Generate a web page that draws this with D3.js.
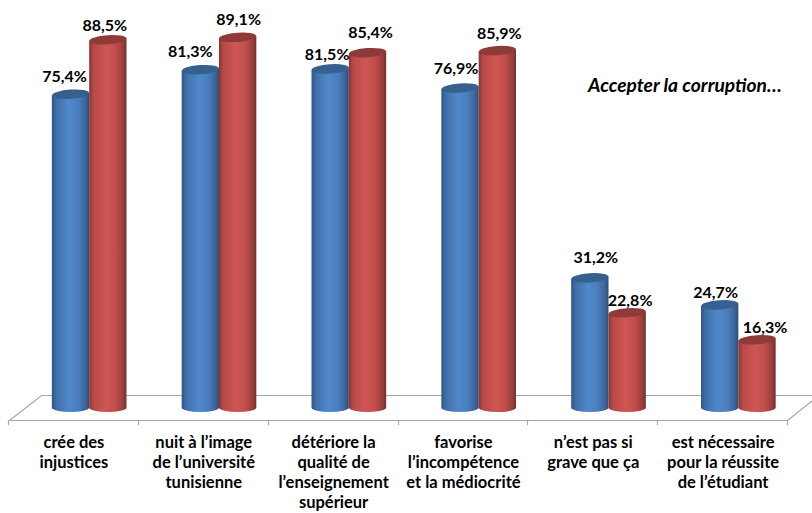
<!DOCTYPE html>
<html><head><meta charset="utf-8">
<script src="https://cdn.jsdelivr.net/npm/d3@7/dist/d3.min.js"></script>
<style>html,body{margin:0;background:#fff}svg{display:block}text{font-family:Lato,"Open Sans",sans-serif;font-weight:700;fill:#000}</style>
</head><body><svg id="c" width="812" height="513"></svg>
<script>
const categories=[["crée des","injustices"],["nuit à l’image","de l’université","tunisienne"],["détériore la","qualité de","l’enseignement","supérieur"],["favorise","l’incompétence","et la médiocrité"],["n’est pas si","grave que ça"],["est nécessaire","pour la réussite","de l’étudiant"]];
const seriesBlue=[75.4,81.3,81.5,76.9,31.2,24.7];
const seriesRed=[88.5,89.1,85.4,85.9,22.8,16.3];
const title="Accepter la corruption…";
const nudgeBlue=[-6,-10,-3,-4,6,-4];
const nudgeRed=[-3,1,3,2,3,8];
const liftBlue=[2,1,5,0,-1,7];
const liftRed=[5,2,-1,2,7,7];
const fmt=v=>v.toFixed(1).replace(".",",")+"%";

const svg=d3.select("#c");
const defs=svg.append("defs");
function grad(id,stops){const g=defs.append("linearGradient").attr("id",id);
 stops.forEach(([o,c])=>g.append("stop").attr("offset",o).attr("stop-color",c));}
grad("gb",[[0,"#2f5587"],[.12,"#3f6fa9"],[.45,"#5088cb"],[.7,"#4a7fbe"],[.9,"#3b659b"],[1,"#2d4d78"]]);
grad("gr",[[0,"#8a3533"],[.12,"#b84a47"],[.45,"#cf5553"],[.7,"#c24e4b"],[.9,"#99403d"],[1,"#723030"]]);

const x=d3.scaleBand().domain(d3.range(categories.length)).range([9,788]);
const inner=d3.scaleBand().domain([0,1]).range([x.bandwidth()*0.33,x.bandwidth()*0.905]);
const y=d3.scaleLinear().domain([0,100]).range([407.5,-8]);

const floor=svg.append("g").attr("fill","none").attr("stroke","#a6a6a6").attr("stroke-width",1.2);
floor.append("path").attr("d","M9.5,420.5 L41.5,395.5 H812");
floor.append("path").attr("d","M787.5,420.5 L812,401");
floor.append("path").attr("d","M9.5,420.5 H787.5");
x.domain().concat([categories.length]).forEach(i=>{
  const px=Math.round(i<categories.length?x(i):x.range()[1])-0.5;
  floor.append("line").attr("x1",px).attr("x2",px).attr("y1",420).attr("y2",425);
});

const all=[];
categories.forEach((_,i)=>{
  all.push({i,s:0,v:seriesBlue[i],nudge:nudgeBlue[i],lift:liftBlue[i]});
  all.push({i,s:1,v:seriesRed[i],nudge:nudgeRed[i],lift:liftRed[i]});
});
const ry=4.6,tilt=-4;
const bars=svg.append("g").selectAll("g").data(all).join("g").attr("transform",d=>`translate(${x(d.i)+inner(d.s)},0)`);
const w=inner.bandwidth();
bars.each(function(d){
  const g=d3.select(this),t=y(d.v),b=y(0),rx=w/2;
  const fill=d.s?"url(#gr)":"url(#gb)";
  const dt=Math.tan(tilt*Math.PI/180)*rx;
  g.append("path").attr("fill",fill)
    .attr("d",`M0,${t-dt} L0,${b} A${rx},${ry} 0 0 0 ${w},${b} L${w},${t+dt} Z`);
  g.append("ellipse").attr("cx",rx).attr("cy",t).attr("rx",rx).attr("ry",ry)
    .attr("transform",`rotate(${tilt} ${rx} ${t})`)
    .attr("fill",d.s?"#8e3a38":"#35608f");
});
svg.append("g").selectAll("text").data(all).join("text")
  .attr("x",d=>x(d.i)+inner(d.s)+w/2+d.nudge)
  .attr("y",d=>y(d.v)-14+d.lift)
  .attr("text-anchor","middle").attr("font-size",16)
  .text(d=>fmt(d.v));
const cat=svg.append("g").selectAll("text").data(categories).join("text")
  .attr("text-anchor","middle").attr("font-size",16.5)
  .attr("transform",(d,i)=>`translate(${x(i)+x.bandwidth()/2},0)`);
cat.selectAll("tspan").data(d=>d).join("tspan").attr("x",0).attr("y",(d,j)=>447.5+j*20.2).text(d=>d);
svg.append("text").attr("x",588).attr("y",92).attr("font-size",19.2).attr("font-style","italic").text(title);
</script></body></html>
